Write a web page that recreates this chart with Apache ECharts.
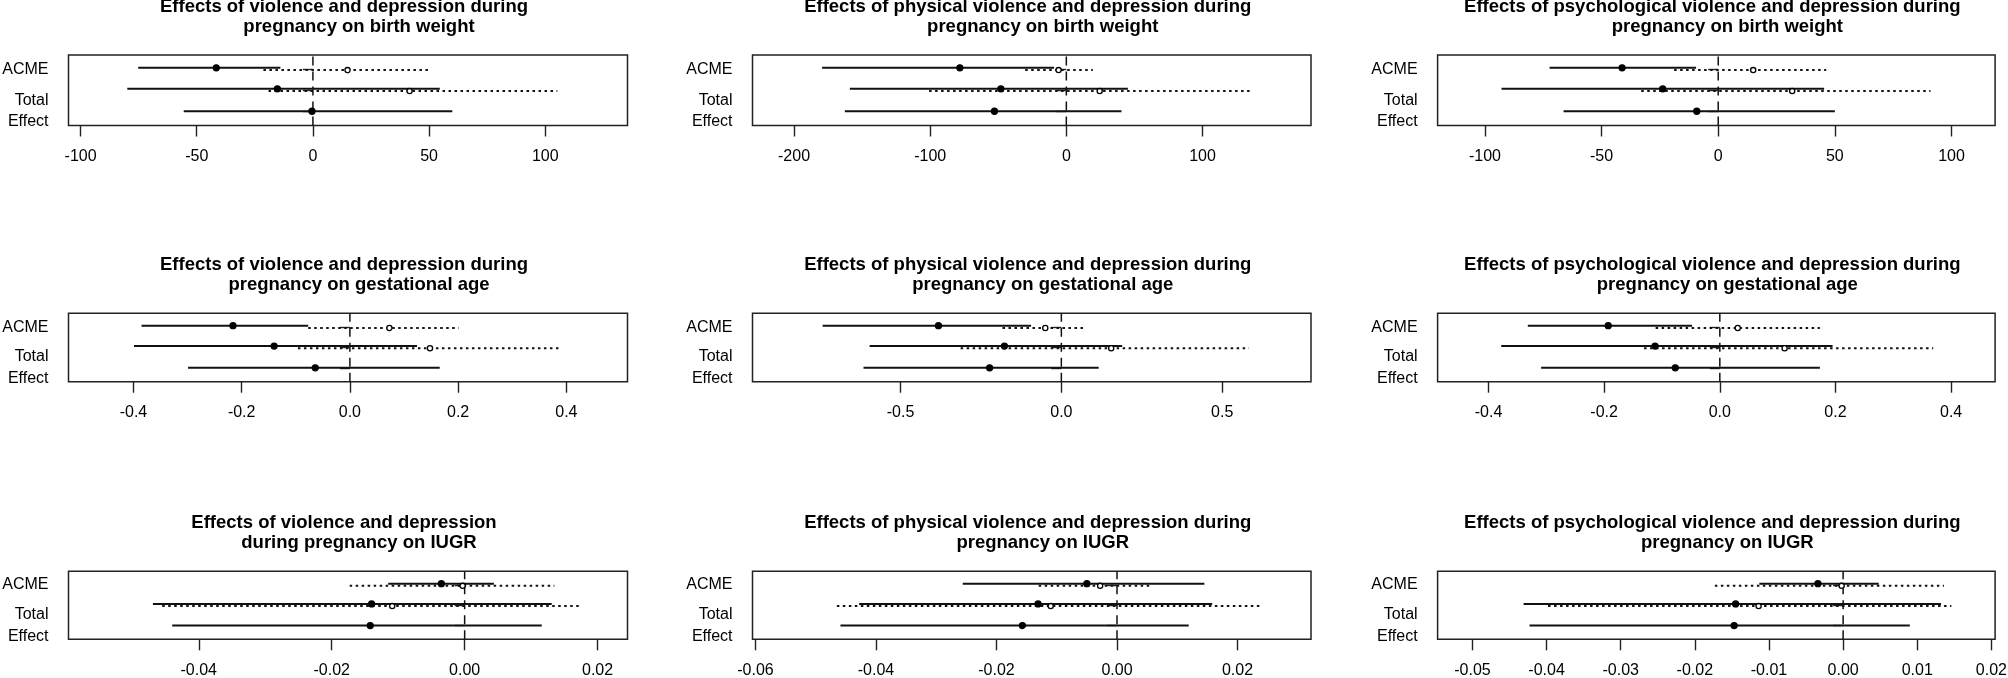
<!DOCTYPE html>
<html>
<head>
<meta charset="utf-8">
<script src="https://cdn.jsdelivr.net/npm/echarts@6/dist/echarts.min.js"></script>
<style>
  html, body { margin: 0; padding: 0; background: #fff; }
  #chart { width: 2008px; height: 678px; }
</style>
</head>
<body>
<div id="chart"></div>
<script>
// panel titles, row by row (birth weight, gestational age, IUGR)
const titleLine1 = [
  "Effects of violence and depression during",
  "Effects of physical violence and depression during",
  "Effects of psychological violence and depression during",
  "Effects of violence and depression during",
  "Effects of physical violence and depression during",
  "Effects of psychological violence and depression during",
  "Effects of violence and depression",
  "Effects of physical violence and depression during",
  "Effects of psychological violence and depression during"
];
const titleLine2 = [
  "pregnancy on birth weight",
  "pregnancy on birth weight",
  "pregnancy on birth weight",
  "pregnancy on gestational age",
  "pregnancy on gestational age",
  "pregnancy on gestational age",
  "during pregnancy on IUGR",
  "pregnancy on IUGR",
  "pregnancy on IUGR"
];

const xTickLabels = [
  ["-100", "-50", "0", "50", "100"],
  ["-200", "-100", "0", "100"],
  ["-100", "-50", "0", "50", "100"],
  ["-0.4", "-0.2", "0.0", "0.2", "0.4"],
  ["-0.5", "0.0", "0.5"],
  ["-0.4", "-0.2", "0.0", "0.2", "0.4"],
  ["-0.04", "-0.02", "0.00", "0.02"],
  ["-0.06", "-0.04", "-0.02", "0.00", "0.02"],
  ["-0.05", "-0.04", "-0.03", "-0.02", "-0.01", "0.00", "0.01", "0.02"]
];
const rowLabels = ["ACME", "", "Total\nEffect"];

// [lower, estimate, upper]
const acmeTreated = [
  [-75.2, -41.6, -14.0], [-179.4, -78.2, -9.0], [-72.3, -41.2, -9.5],
  [-0.385, -0.216, -0.077], [-0.742, -0.382, -0.094], [-0.332, -0.193, -0.048],
  [-0.0115, -0.0035, 0.0044], [-0.0256, -0.0050, 0.0145], [-0.0113, -0.0034, 0.0048]
];
const acmeControl = [
  [-21.3, 14.9, 50.0], [-30.2, -5.7, 19.5], [-18.9, 15.0, 46.3],
  [-0.077, 0.073, 0.201], [-0.183, -0.050, 0.068], [-0.111, 0.031, 0.173],
  [-0.0173, -0.0003, 0.0135], [-0.0130, -0.0028, 0.0059], [-0.0173, -0.0002, 0.0136]
];
const adeTreated = [
  [-79.9, -15.3, 54.6], [-159.0, -48.1, 45.2], [-92.9, -23.8, 45.4],
  [-0.399, -0.140, 0.124], [-0.596, -0.177, 0.189], [-0.378, -0.112, 0.195],
  [-0.0469, -0.0140, 0.0131], [-0.0428, -0.0131, 0.0158], [-0.0431, -0.0145, 0.0132]
];
const adeControl = [
  [-19.1, 41.6, 105.2], [-100.8, 24.5, 135.1], [-33.0, 31.7, 91.0],
  [-0.096, 0.148, 0.391], [-0.313, 0.155, 0.583], [-0.131, 0.112, 0.369],
  [-0.0455, -0.0109, 0.0174], [-0.0465, -0.0110, 0.0239], [-0.0398, -0.0114, 0.0146]
];
const totalEffect = [
  [-55.6, -0.4, 60.0], [-162.7, -52.8, 40.5], [-66.3, -9.2, 50.0],
  [-0.299, -0.064, 0.166], [-0.615, -0.223, 0.116], [-0.309, -0.077, 0.173],
  [-0.0440, -0.0142, 0.0116], [-0.0459, -0.0157, 0.0119], [-0.0423, -0.0147, 0.0090]
];

// layout (pixels) and axis extents
const colBoxes = [[68.5, 559], [752.5, 558.5], [1437.6, 557.5]];
const rowBoxes = [[55, 70.5], [313.3, 68.4], [571.3, 68]];
const xRanges = [
  [-105.2, 135.4], [-230.5, 179.7], [-120.3, 118.7],
  [-0.520, 0.513], [-0.960, 0.776], [-0.488, 0.476],
  [-0.0596, 0.0245], [-0.0605, 0.0322], [-0.0547, 0.0205]
];
const yMin = 0.32, yMax = 3.68;
const rowY = { acme: 3, ade: 2, total: 1 };
const treatedShift = 0.07, controlShift = -0.04;

const FONT = '"Liberation Sans", Arial, sans-serif';
const INK = "#111";

const chart = echarts.init(document.getElementById("chart"));

const grids = [], xAxes = [], yAxes = [], series = [], graphics = [];

for (let i = 0; i < 9; i++) {
  const col = colBoxes[i % 3], row = rowBoxes[Math.floor(i / 3)];
  const ticks = xTickLabels[i].map(Number);

  grids.push({
    left: col[0], top: row[0], width: col[1], height: row[1],
    show: true, borderColor: "#222", borderWidth: 1.5, backgroundColor: "transparent",
    containLabel: false, outerBoundsMode: "none"
  });

  xAxes.push({
    type: "value", gridIndex: i, min: xRanges[i][0], max: xRanges[i][1],
    axisLine: { show: false },
    splitLine: { show: false },
    axisTick: { show: true, length: 11, customValues: ticks, lineStyle: { color: "#222", width: 1.4 } },
    axisLabel: {
      show: true, customValues: ticks, margin: 23,
      fontFamily: FONT, fontSize: 16, color: "#000",
      formatter: v => {
        const k = ticks.findIndex(t => Math.abs(t - v) < 1e-9);
        return k >= 0 ? xTickLabels[i][k] : "";
      }
    }
  });

  yAxes.push({
    type: "value", gridIndex: i, min: yMin, max: yMax,
    axisLine: { show: false },
    splitLine: { show: false },
    axisTick: { show: true, length: 10, customValues: [1, 2, 3], lineStyle: { color: "#222", width: 1.4 } },
    axisLabel: {
      show: true, customValues: [1, 2, 3], margin: 20,
      fontFamily: FONT, fontSize: 16, color: "#000", lineHeight: 21.7,
      formatter: v => rowLabels[3 - Math.round(v)]
    }
  });

  // intervals: [lo, est, hi, y, dotted]
  const items = [
    [...acmeTreated[i], rowY.acme + treatedShift, 0],
    [...acmeControl[i], rowY.acme + controlShift, 1],
    [...adeTreated[i], rowY.ade + treatedShift, 0],
    [...adeControl[i], rowY.ade + controlShift, 1],
    [...totalEffect[i], rowY.total, 0]
  ];

  // zero reference line
  series.push({
    type: "line", xAxisIndex: i, yAxisIndex: i, silent: true, z: 1,
    symbol: "none", data: [[0, yMin], [0, yMax]],
    lineStyle: { color: INK, width: 1.5, type: [9, 6] }
  });

  series.push({
    type: "custom", xAxisIndex: i, yAxisIndex: i, silent: true, z: 2,
    dimensions: ["lo", "est", "hi", "y", "dotted"],
    encode: { x: [0, 1, 2], y: 3 },
    data: items,
    renderItem: (params, api) => {
      const y = api.value(3);
      const a = api.coord([api.value(0), y]);
      const b = api.coord([api.value(2), y]);
      const dotted = api.value(4) === 1;
      return {
        type: "line",
        shape: { x1: a[0], y1: a[1], x2: b[0], y2: b[1] },
        style: { stroke: INK, lineWidth: 2, lineDash: dotted ? [2.5, 3.5] : null }
      };
    }
  });

  series.push({
    type: "custom", xAxisIndex: i, yAxisIndex: i, silent: true, z: 3,
    dimensions: ["lo", "est", "hi", "y", "dotted"],
    encode: { x: [0, 1, 2], y: 3 },
    data: items,
    renderItem: (params, api) => {
      const p = api.coord([api.value(1), api.value(3)]);
      const open = api.value(4) === 1;
      return {
        type: "circle",
        shape: { cx: p[0], cy: p[1], r: open ? 2.6 : 3 },
        style: { fill: open ? "#fff" : "#000", stroke: "#000", lineWidth: 1.3 }
      };
    }
  });

  const cx = col[0] + col[1] / 2;
  graphics.push({
    type: "text", x: cx - 4, y: row[0] - 48,
    style: {
      text: titleLine1[i], fill: "#000", font: "bold 18.5px " + FONT,
      align: "center", verticalAlign: "middle", textAlign: "center", textVerticalAlign: "middle"
    }
  });
  graphics.push({
    type: "text", x: cx + 11, y: row[0] - 28,
    style: {
      text: titleLine2[i], fill: "#000", font: "bold 18.5px " + FONT,
      align: "center", verticalAlign: "middle", textAlign: "center", textVerticalAlign: "middle"
    }
  });
}

chart.setOption({
  animation: false,
  backgroundColor: "#fff",
  grid: grids,
  xAxis: xAxes,
  yAxis: yAxes,
  series: series,
  graphic: graphics
});
</script>
</body>
</html>
